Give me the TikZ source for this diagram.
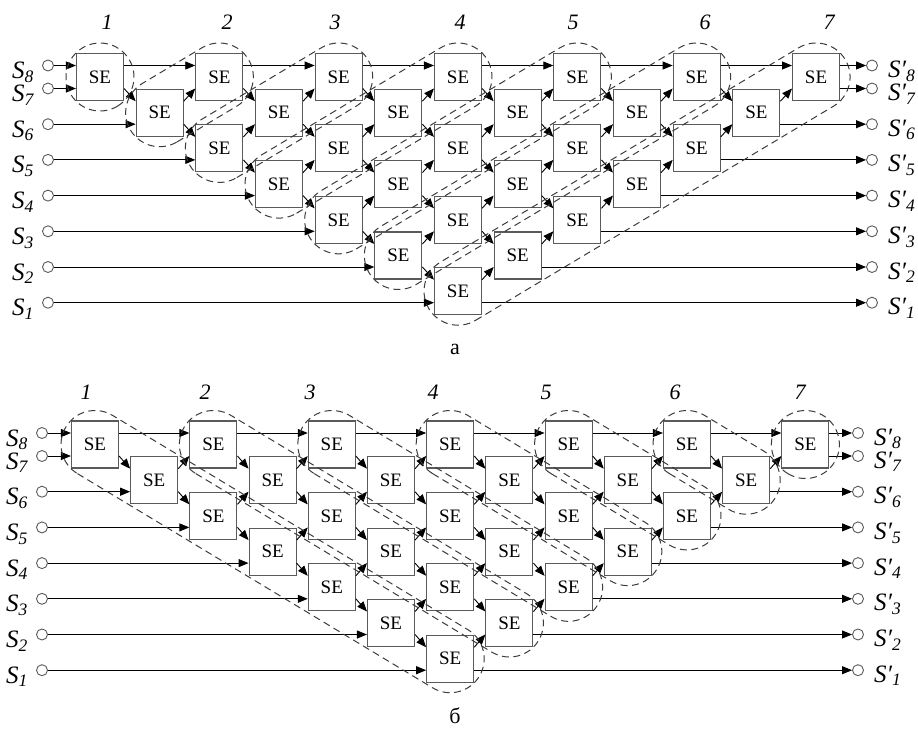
\documentclass[tikz,border=0pt]{standalone}
\usepackage{fontspec}
\setmainfont{Liberation Serif}
\usepackage{tikz}
\usetikzlibrary{arrows.meta,calc}
\definecolor{boxline}{RGB}{90,90,90}
\definecolor{grpline}{RGB}{60,60,60}
\newcommand{\rowstep}{35.7}
\newcommand{\gr}{34}
\newcommand{\insig}[1]{\textit{S\textsubscript{#1}}}
\newcommand{\outsig}[1]{\textit{S′\textsubscript{#1}}}
% штриховой контур группы: от блока #1 до блока #2
\newcommand{\grp}[4]{%
  \draw[grp] ($(#1.center)+(#3:\gr)$) -- ($(#2.center)+(#3:\gr)$)
    arc[start angle=#3, delta angle=180, radius=\gr]
    -- ($(#1.center)+(#4:\gr)$)
    arc[start angle=#4, delta angle=180, radius=\gr] -- cycle;}

\begin{document}
\begin{tikzpicture}[x=1pt,y=1pt,>={Triangle[length=10pt,width=8pt]},
  se/.style={draw=boxline,line width=1.1pt,fill=white,minimum size=47pt,inner sep=0pt,
    font=\fontsize{19}{19}\selectfont},
  wire/.style={->,line width=0.9pt},
  term/.style={circle,draw=boxline,line width=0.9pt,minimum size=11pt,inner sep=0pt,fill=white},
  grp/.style={draw=grpline,line width=1pt,dash pattern=on 7pt off 4.5pt},
  sig/.style={inner sep=0pt,font=\fontsize{25}{25}\selectfont},
  num/.style={font=\fontsize{22}{22}\selectfont\itshape},
  capt/.style={font=\fontsize{22}{22}\selectfont}]
  \useasboundingbox (0,0) rectangle (918,-729);
  \foreach \n/\xo/\yo/\dx/\xin/\xout in {a/100/77/59.67/48/872, b/95/444.5/59.2/42/858}{
    % блоки SE
    \foreach \r in {1,...,7}{
      \pgfmathtruncatemacro\nj{7-\r}
      \foreach \j in {0,...,\nj}{
        \pgfmathtruncatemacro\p{\r-1+2*\j}
        \node[se] (\n-\r-\p) at ({\xo+\dx*\p},{-\yo-\rowstep*(\r-1)}) {SE};
      }
    }
    % входы и выходы
    \node[term] (\n-i8) at (\xin,{-\yo+11.5}) {};
    \node[term] (\n-o8) at (\xout,{-\yo+11.5}) {};
    \foreach \k in {1,...,7}{
      \node[term] (\n-i\k) at (\xin,{-\yo-\rowstep*(7-\k)-11.5}) {};
      \node[term] (\n-o\k) at (\xout,{-\yo-\rowstep*(7-\k)-11.5}) {};
    }
    \foreach \k in {1,...,8}{
      \node[sig,anchor=base east] (\n-si\k) at ($(\n-i\k.west)+(-8,-13)$) {\insig{\k}};
      \node[sig,anchor=base west] (\n-so\k) at ($(\n-o\k.east)+(10,-12)$) {\outsig{\k}};
    }
    % линии
    \draw[wire] (\n-i8.east) -- ([yshift=11.5pt]\n-1-0.west);
    \draw[wire] ([yshift=11.5pt]\n-1-12.east) -- (\n-o8.west);
    \foreach \k in {1,...,7}{
      \pgfmathtruncatemacro\r{8-\k}
      \pgfmathtruncatemacro\p{7-\k}
      \pgfmathtruncatemacro\q{5+\k}
      \draw[wire] (\n-i\k.east) -- ([yshift=-11.5pt]\n-\r-\p.west);
      \draw[wire] ([yshift=-11.5pt]\n-\r-\q.east) -- (\n-o\k.west);
    }
    \foreach \p [evaluate=\p as \q using int(\p+2)] in {0,2,...,10}
      \draw[wire] ([yshift=11.5pt]\n-1-\p.east) -- ([yshift=11.5pt]\n-1-\q.west);
    \foreach \r in {1,...,7}{
      \pgfmathtruncatemacro\nj{7-\r}
      \foreach \j in {0,...,\nj}{
        \pgfmathtruncatemacro\p{\r-1+2*\j}
        \pgfmathtruncatemacro\q{\p+1}
        \pgfmathtruncatemacro\rd{\r+1}
        \pgfmathtruncatemacro\ru{\r-1}
        \ifnum\j<\nj
          \draw[wire] ([yshift=-11.5pt]\n-\r-\p.east) -- ([yshift=11.5pt]\n-\rd-\q.west);
        \fi
        \ifnum\r>1
          \draw[wire] ([yshift=11.5pt]\n-\r-\p.east) -- ([yshift=-11.5pt]\n-\ru-\q.west);
        \fi
      }
    }
  }
  % группы (а): по восходящим диагоналям
  \foreach \k in {1,...,7}{
    \pgfmathtruncatemacro\p{\k-1}
    \pgfmathtruncatemacro\q{2*\k-2}
    \grp{a-\k-\p}{a-1-\q}{-59}{121}
  }
  % группы (б): по нисходящим диагоналям
  \foreach \k in {1,...,7}{
    \pgfmathtruncatemacro\p{2*\k-2}
    \pgfmathtruncatemacro\r{8-\k}
    \pgfmathtruncatemacro\q{\k+5}
    \grp{b-1-\p}{b-\r-\q}{-121}{59}
  }
  % номера и подписи
  \foreach \x [count=\i] in {107,227,335,460,573,705,829}
    \node[num] (a-c\i) at (\x,-22) {\i};
  \foreach \x [count=\i] in {86,205,310,433,546,675,800}
    \node[num] (b-c\i) at (\x,-392) {\i};
  \node[capt] (a-cap) at (455,-349) {а};
  \node[capt] (b-cap) at (455,-716) {б};
\end{tikzpicture}
\end{document}
